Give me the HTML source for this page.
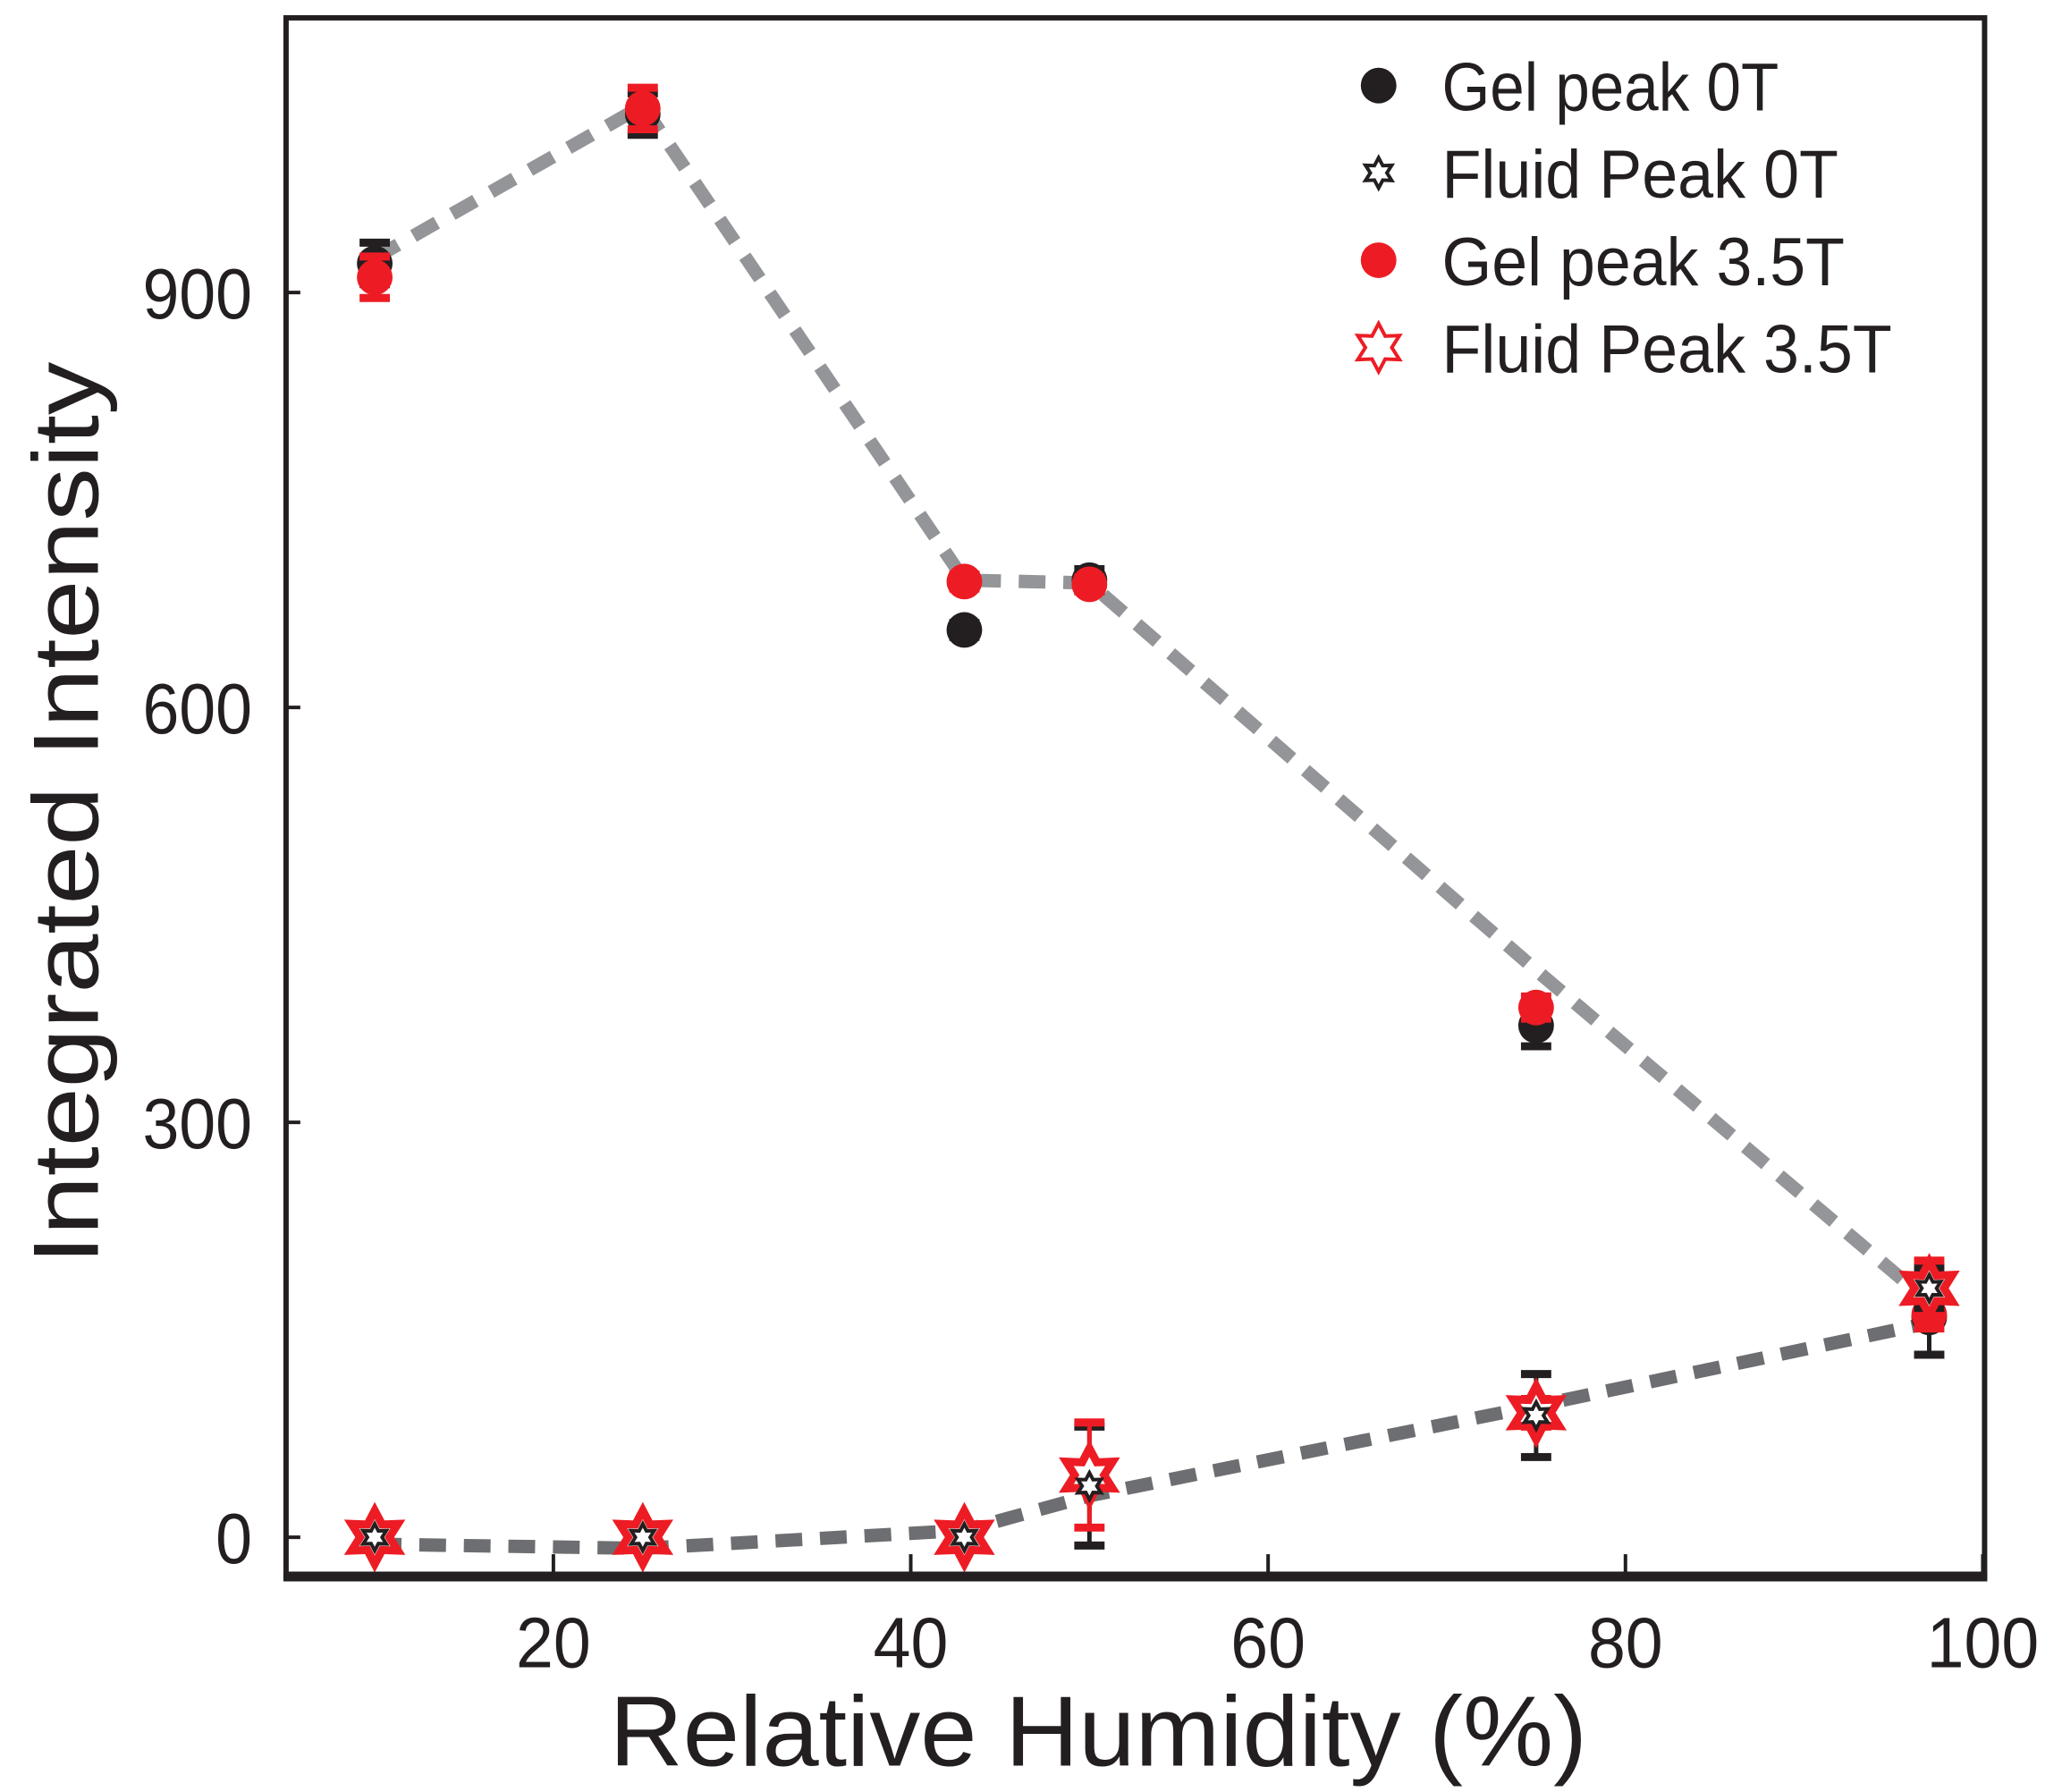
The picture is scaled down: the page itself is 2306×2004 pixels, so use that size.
<!DOCTYPE html>
<html><head><meta charset="utf-8"><style>
html,body{margin:0;padding:0;background:#fff;}
svg{display:block;}
text{font-family:"Liberation Sans",sans-serif;fill:#231f20;}
</style></head><body>
<svg id="chart" width="2306" height="2004" viewBox="0 0 2306 2004" xmlns="http://www.w3.org/2000/svg">
<g transform="scale(0.9966)">
<g id="lines"></g>
<g id="marks"></g>
<g id="axes"></g>
<g id="legend"></g>
</g>
</svg>
<script>
const humidity = [10, 25, 43, 50, 75, 97];
const gel0T = [921, 1029, 656, 692, 370, 159];
const gel0TErr = [15, 15, 5, 8, 15, 27];
const gel35T = [911, 1033, 691, 689, 383, 161];
const gel35TErr = [15, 15, 5, 5, 8, 10];
const fluid0T = [0, 0, 0, 37, 88, 180];
const fluid0TErr = [0, 0, 0, 43, 30, 15];
const fluid35T = [0, 0, 0, 45, 90, 180];
const fluid35TErr = [0, 0, 0, 38, 10, 20];
const gelFit = [925, 1035, 692, 690, 410, 170];
const fluidFit = [-5, -8, 5, 30, 95, 155];
const xTicks = [20, 40, 60, 80, 100];
const yTicks = [0, 300, 600, 900];
const legendLabels = ["Gel peak 0T", "Fluid Peak 0T", "Gel peak 3.5T", "Fluid Peak 3.5T"];

const NS = "http://www.w3.org/2000/svg";
const X0 = 321, X1 = 2227, Y0 = 20, Y1 = 1769;
function xs(v){ return 621 + (v - 20) * 20.05; }
function ys(v){ return 1725 - v * 1.552; }
function mk(tag, attrs, parent){
  const e = document.createElementNS(NS, tag);
  for (const k in attrs) e.setAttribute(k, attrs[k]);
  parent.appendChild(e);
  return e;
}
const gLines = document.getElementById('lines');
const gMarks = document.getElementById('marks');
const gAxes = document.getElementById('axes');
const gLeg = document.getElementById('legend');

function starPts(cx, cy, r){
  const pts = [];
  for (let i = 0; i < 12; i++){
    const a = -Math.PI/2 + i*Math.PI/6;
    const rr = i % 2 === 0 ? r : r*0.55;
    pts.push((cx + rr*Math.cos(a)).toFixed(1) + ',' + (cy + rr*Math.sin(a)).toFixed(1));
  }
  return pts.join(' ');
}

let d1 = humidity.map((h,i)=>(i?'L':'M')+xs(h)+' '+ys(gelFit[i])).join(' ');
let l1 = mk('path', {d:d1, fill:'none', stroke:'#939598', 'stroke-width':15, 'stroke-dasharray':'30 20'}, gLines);


let d2 = humidity.map((h,i)=>(i?'L':'M')+xs(h)+' '+ys(fluidFit[i])).join(' ');
let l2 = mk('path', {d:d2, fill:'none', stroke:'#6d6e71', 'stroke-width':15, 'stroke-dasharray':'30 20'}, gLines);



function errbar(x, v, e, color, name){
  if (!e) return;
  const g = mk('g', {}, gMarks);
  
  
  const yt = ys(v+e), yb = ys(v-e);
  mk('line', {x1:x, x2:x, y1:yt, y2:yb, stroke:color, 'stroke-width':5}, g);
  mk('line', {x1:x-17, x2:x+17, y1:yt, y2:yt, stroke:color, 'stroke-width':9}, g);
  mk('line', {x1:x-17, x2:x+17, y1:yb, y2:yb, stroke:color, 'stroke-width':9}, g);
}

humidity.forEach((h,i)=>{
  const x = xs(h);
  errbar(x, gel0T[i], gel0TErr[i], '#231f20', 'gel-0t-error-bar');
  const c = mk('circle', {cx:x, cy:ys(gel0T[i]), r:20, fill:'#231f20'}, gMarks);
  
  
  errbar(x, gel35T[i], gel35TErr[i], '#ed1c24', 'gel-3-5t-error-bar');
  const c2 = mk('circle', {cx:x, cy:ys(gel35T[i]), r:20, fill:'#ed1c24'}, gMarks);
  
  
  errbar(x, fluid0T[i], fluid0TErr[i], '#231f20', 'fluid-0t-error-bar');
  errbar(x, fluid35T[i], fluid35TErr[i], '#ed1c24', 'fluid-3-5t-error-bar');
  const s2 = mk('polygon', {points:starPts(x, ys(fluid35T[i]), 30), fill:'#fff', stroke:'#ed1c24', 'stroke-width':9}, gMarks);
  
  
  const s1 = mk('polygon', {points:starPts(x, ys(fluid0T[i]), 15), fill:'#fff', stroke:'#231f20', 'stroke-width':4}, gMarks);
  
  
});

const frame = mk('rect', {x:X0, y:Y0, width:X1-X0, height:Y1-Y0, fill:'none', stroke:'#231f20', 'stroke-width':6}, gAxes);


const bottom = mk('line', {x1:X0-3, x2:X1+3, y1:Y1, y2:Y1, stroke:'#231f20', 'stroke-width':11}, gAxes);



xTicks.forEach(t=>{
  const x = xs(t);
  const tk = mk('line', {x1:x, x2:x, y1:Y1, y2:Y1-25, stroke:'#231f20', 'stroke-width':4}, gAxes);
  
  
  const lb = mk('text', {x:x, y:1871, 'font-size':80, 'text-anchor':'middle', textLength: String(t).length*42, lengthAdjust:'spacingAndGlyphs'}, gAxes);
  lb.textContent = t;
  
  
});
yTicks.forEach(t=>{
  const y = ys(t);
  const tk = mk('line', {x1:X0, x2:X0+16, y1:y, y2:y, stroke:'#231f20', 'stroke-width':4}, gAxes);
  
  
  const lb = mk('text', {x:283, y:y+29, 'font-size':80, 'text-anchor':'end', textLength: String(t).length*41, lengthAdjust:'spacingAndGlyphs'}, gAxes);
  lb.textContent = t;
  
  
});
const xt = mk('text', {x:684, y:1981, 'font-size':112, textLength:1097, lengthAdjust:'spacingAndGlyphs'}, gAxes);
xt.textContent = 'Relative Humidity (%)';


const yt = mk('text', {x:0, y:0, 'font-size':104, textLength:1013, lengthAdjust:'spacingAndGlyphs', transform:'translate(110,1419) rotate(-90)'}, gAxes);
yt.textContent = 'Integrated Intensity';



const legW = [378, 445, 452, 505];
legendLabels.forEach((lab,i)=>{
  const cy = 96 + i*98;
  const g = mk('g', {}, gLeg);
  
  
  if (i === 0) mk('circle', {cx:1547, cy:cy, r:20, fill:'#231f20'}, g);
  if (i === 1) mk('polygon', {points:starPts(1547, cy, 17), fill:'#fff', stroke:'#231f20', 'stroke-width':4}, g);
  if (i === 2) mk('circle', {cx:1547, cy:cy, r:20, fill:'#ed1c24'}, g);
  if (i === 3) mk('polygon', {points:starPts(1547, cy, 27), fill:'#fff', stroke:'#ed1c24', 'stroke-width':4}, g);
  const t = mk('text', {x:1618, y:cy+28, 'font-size':76, textLength:legW[i], lengthAdjust:'spacingAndGlyphs'}, g);
  t.textContent = lab;
});
</script>
</body></html>
